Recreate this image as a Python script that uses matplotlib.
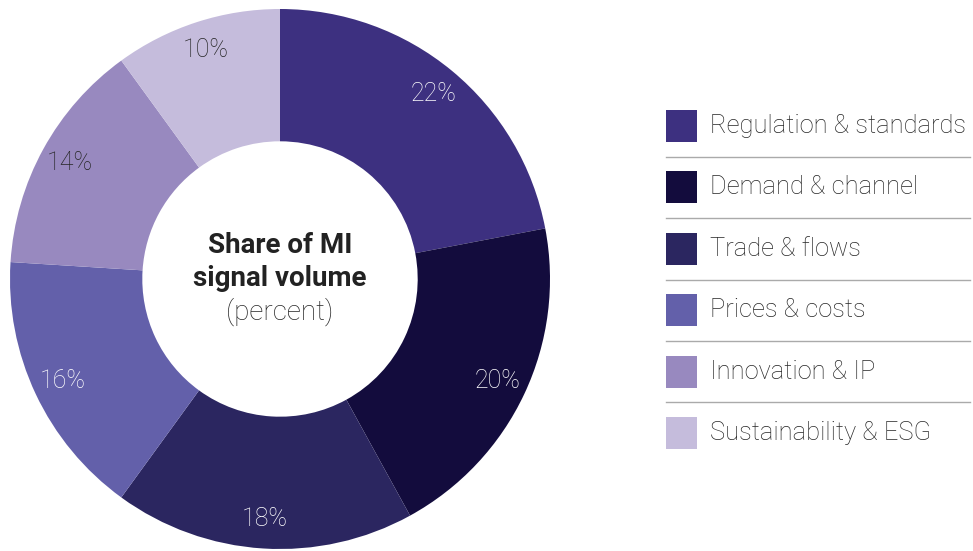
import matplotlib.pyplot as plt
from matplotlib.patches import Rectangle

plt.rcParams["font.family"] = ["Roboto", "DejaVu Sans"]

CATEGORIES = [
    "Regulation & standards",
    "Demand & channel",
    "Trade & flows",
    "Prices & costs",
    "Innovation & IP",
    "Sustainability & ESG",
]
SHARES = [22, 20, 18, 16, 14, 10]

COLORS = ["#3d3080", "#130c3d", "#2b2660", "#6360aa", "#9889bf", "#c5bcdc"]
LABEL_COLORS = ["white", "white", "white", "white", "#262626", "#262626"]

W, H = 973, 551


def main() -> None:
    fig = plt.figure(figsize=[W / 100, H / 100], dpi=100)

    # donut
    ax = fig.add_axes([10 / W, 2 / H, 540 / W, 540 / H])
    wedges, texts = ax.pie(
        SHARES,
        colors=COLORS,
        startangle=90,
        counterclock=False,
        radius=1.0,
        labels=[f"{v}%" for v in SHARES],
        labeldistance=0.89,
        wedgeprops=dict(width=0.49, linewidth=0),
        textprops=dict(fontsize=18, fontweight="light"),
    )
    for t, c in zip(texts, LABEL_COLORS):
        t.set_color(c)
        t.set_ha("center")
        t.set_va("center")
    ax.set_xlim(-1, 1)
    ax.set_ylim(-1, 1)
    ax.set_aspect("equal")
    ax.axis("off")

    ax.text(0, 0.125, "Share of MI", ha="center", va="center",
            fontsize=20, fontweight="bold", color="#222222")
    ax.text(0, 0.003, "signal volume", ha="center", va="center",
            fontsize=20, fontweight="bold", color="#222222")
    ax.text(0, -0.12, "(percent)", ha="center", va="center",
            fontsize=20, fontweight="light", color="#262626")

    # legend drawn by hand in pixel space
    lg = fig.add_axes([0, 0, 1, 1])
    lg.set_xlim(0, W)
    lg.set_ylim(H, 0)
    lg.axis("off")
    y0, step = 126, 61.4
    for i, (name, color) in enumerate(zip(CATEGORIES, COLORS)):
        y = y0 + i * step
        lg.add_patch(Rectangle((666, y - 16), 31, 32, color=color, linewidth=0))
        lg.text(710, y, name, ha="left", va="center", fontsize=18.4,
                fontweight="light", color="#262626")
        if i < len(CATEGORIES) - 1:
            lg.plot([666, 970], [y + step / 2, y + step / 2], color="#aaaaaa",
                    linewidth=1)

    fig.savefig("out.png", dpi=100)


if __name__ == '__main__':
    main()
